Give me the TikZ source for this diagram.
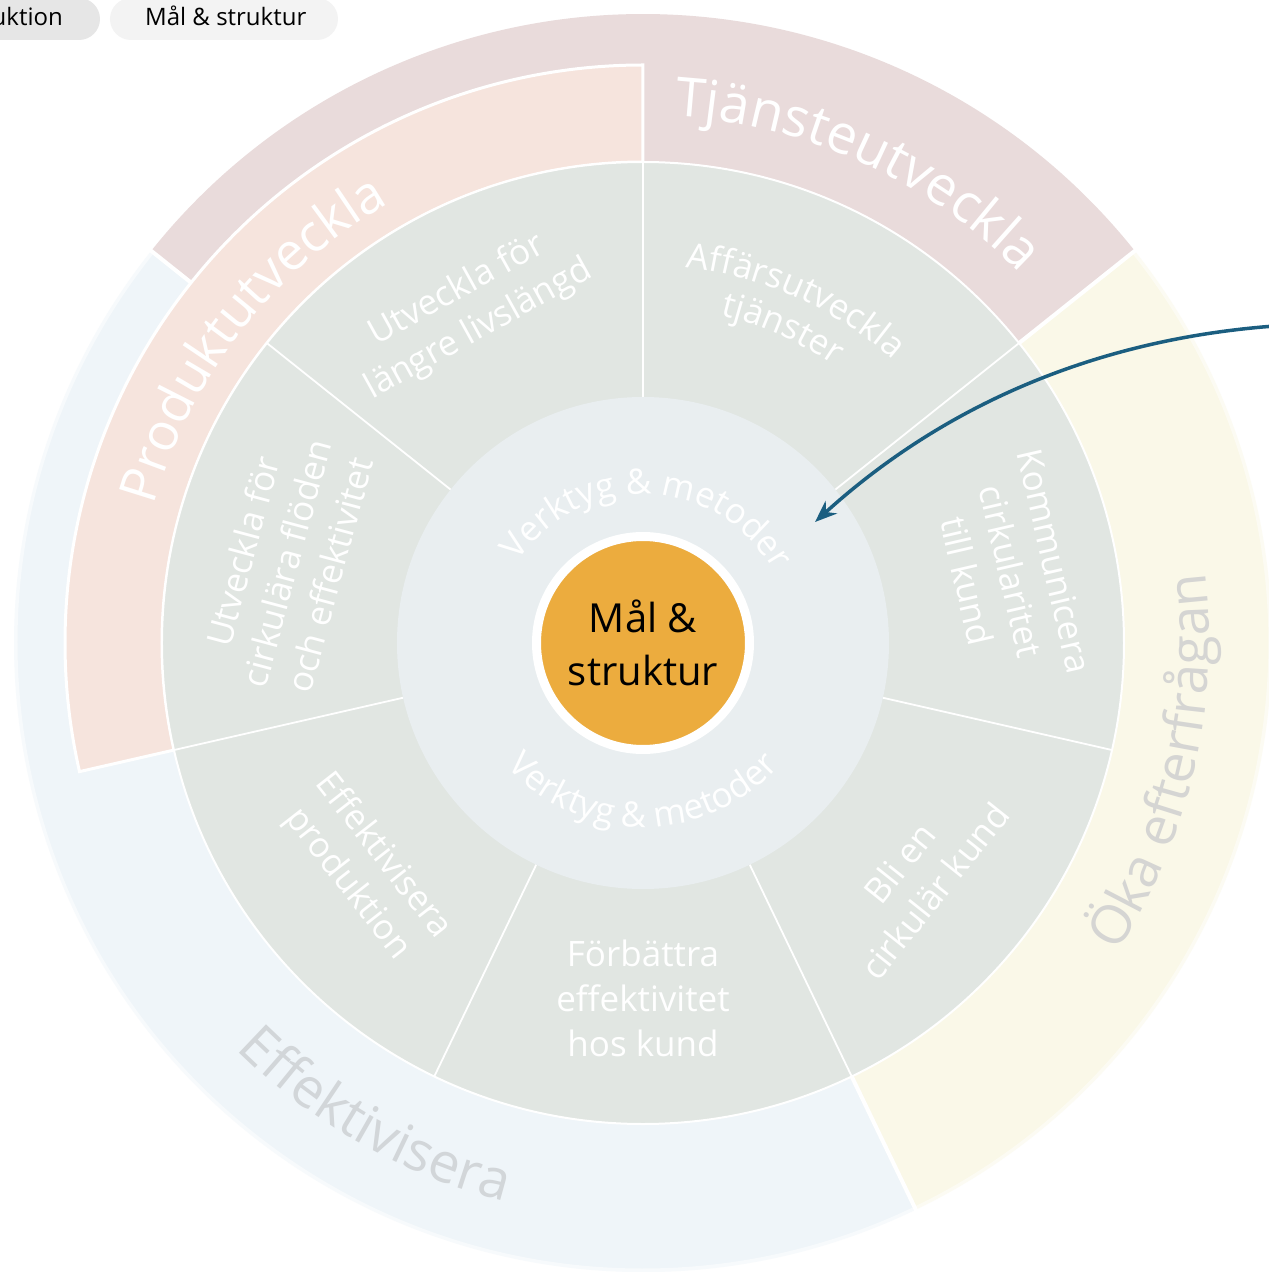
\documentclass[tikz,border=0pt]{standalone}
\usepackage{fontspec}
\setmainfont{Open Sans}
\usetikzlibrary{decorations.text,arrows.meta}
\definecolor{segc}{HTML}{E1E6E2}
\definecolor{innerc}{HTML}{E9EEF0}
\definecolor{orangec}{HTML}{ECAC3E}
\definecolor{pinkc}{HTML}{E9DBDB}
\definecolor{salmonc}{HTML}{F6E4DD}
\definecolor{bluec}{HTML}{EFF5F9}
\definecolor{yellowc}{HTML}{FAF8E8}
\definecolor{arrowc}{HTML}{1B5E80}
\definecolor{okac}{HTML}{D5D5D3}
\definecolor{effc}{HTML}{D2D6D9}
\definecolor{pillA}{HTML}{E6E6E6}
\definecolor{pillB}{HTML}{F3F3F3}
\newcommand{\annsec}[5]{\path[#1] (#4:#2pt) arc[start angle=#4, end angle=#5, radius=#2pt] -- (#5:#3pt) arc[start angle=#5, end angle=#4, radius=#3pt] -- cycle;}
\begin{document}
\begin{tikzpicture}[x=1pt,y=1pt,
  seg/.style={text=white, font=\fontsize{35}{45}\selectfont, align=center, inner sep=0pt},
  sepline/.style={white, line width=4pt},
  segline/.style={white, line width=1.8pt},
  pilltext/.style={text=black, font=\fontsize{24}{28}\selectfont, inner sep=0pt},
  coretext/.style={text=black, font=\fontsize{40}{53}\selectfont, inner sep=0pt},
  arrowstyle/.style={arrowc, line width=3.5pt, -{Stealth[length=22pt, width=17pt]}}]
\useasboundingbox (-643,-629) rectangle (626,643);
\fill[white] (-643,-629) rectangle (626,643);
% outer bands
\annsec{fill=bluec}{481}{629}{141.43}{295.71}
\annsec{fill=yellowc}{481}{629}{295.71}{398.57}
\annsec{fill=pinkc}{481}{629}{38.57}{141.43}
\draw[white, opacity=0.5, line width=5pt] (141.43:628pt) arc[start angle=141.43, end angle=398.57, radius=628pt];
\foreach \a in {38.57,141.43,295.71} \draw[sepline] (\a:470pt) -- (\a:640pt);
% Produktutveckla band
\annsec{fill=salmonc, draw=white, line width=3pt}{481}{578}{90}{192.86}
% middle ring
\fill[segc] (0,0) circle[radius=481pt];
\foreach \k in {0,...,6} \draw[segline] ({90+\k*360/7}:246pt) -- ({90+\k*360/7}:481pt);
\draw[white, line width=2pt] (0,0) circle[radius=481pt];
% inner circle
\fill[innerc] (0,0) circle[radius=246pt];
% core
\node[circle, fill=orangec, draw=white, line width=9pt, minimum size=213pt, inner sep=0pt] (core) at (0,0) {};
\node[coretext, anchor=base] (coreA) at (0,11) {Mål \&};
\node[coretext, anchor=base] (coreB) at (0,-42) {struktur};
% outer curved labels
\path[decorate, decoration={text along path, text={|\fontsize{54}{60}\selectfont|Tjänsteutveckla}, text color=white, text align=center}]
  (91:528pt) arc[start angle=91, end angle=40, radius=528pt];
\path[decorate, decoration={text along path, text={|\fontsize{52}{60}\selectfont|Produktutveckla}, text color=white, text align=center}]
  (192.86:508pt) arc[start angle=192.86, end angle=91.5, radius=508pt];
\path[decorate, decoration={text along path, text={|\fontsize{55}{60}\selectfont|Effektivisera}, text color=effc, text align=center}]
  (185.3:575pt) arc[start angle=185.3, end angle=295.7, radius=575pt];
\path[decorate, decoration={text along path, text={|\fontsize{54}{60}\selectfont|Öka efterfrågan}, text color=okac, text align=center}]
  (-60:566pt) arc[start angle=-60, end angle=34, radius=566pt];
% Verktyg & metoder
\path[decorate, decoration={text along path, text={|\fontsize{35}{38}\selectfont|Verktyg {\&} metoder}, text color=white, text align=center}]
  (178:149pt) arc[start angle=178, end angle=-2, radius=149pt];
\path[decorate, decoration={text along path, text={|\fontsize{35}{38}\selectfont|Verktyg {\&} metoder}, text color=white, text align=center}]
  (180:184pt) arc[start angle=180, end angle=360, radius=184pt];
% segment labels
\path[decorate, decoration={text along path, text={|\fontsize{35}{40}\selectfont|Affärsutveckla}, text color=white, text align=center}]
  (101:378pt) arc[start angle=101, end angle=31, radius=378pt];
\path[decorate, decoration={text along path, text={|\fontsize{35}{40}\selectfont|tjänster}, text color=white, text align=center}]
  (101:337pt) arc[start angle=101, end angle=31, radius=337pt];
\node[seg, rotate=29] (s2) at (-175,333) {Utveckla för\\längre livslängd};
\node[seg, rotate=75] (s3) at (-357,80) {Utveckla för\\cirkulära flöden\\och effektivitet};
\node[seg, rotate=-52] (s4) at (-278,-227) {Effektivisera\\produktion};
\node[seg] (s5) at (0,-355) {Förbättra\\effektivitet\\hos kund};
\node[seg, rotate=51.4] (s6) at (274,-234) {Bli en\\cirkulär kund};
\node[seg, rotate=-77] (s7) at (368,72) {Kommunicera\\cirkularitet\\till kund};
% arrow
\coordinate (astart) at (632,317);
\coordinate (aend) at (172,121);
\draw[arrowstyle] (astart) .. controls (455,304) and (302,239) .. (aend);
% tabs
\fill[pillA, rounded corners=21pt] (-690,603) rectangle (-543,645);
\fill[pillB, rounded corners=21pt] (-533,603) rectangle (-305,645);
\node[pilltext, anchor=base east] (tab1) at (-580,617) {uktion};
\node[pilltext, anchor=base west] (tab2) at (-498,617) {Mål \& struktur};
\end{tikzpicture}
\end{document}
